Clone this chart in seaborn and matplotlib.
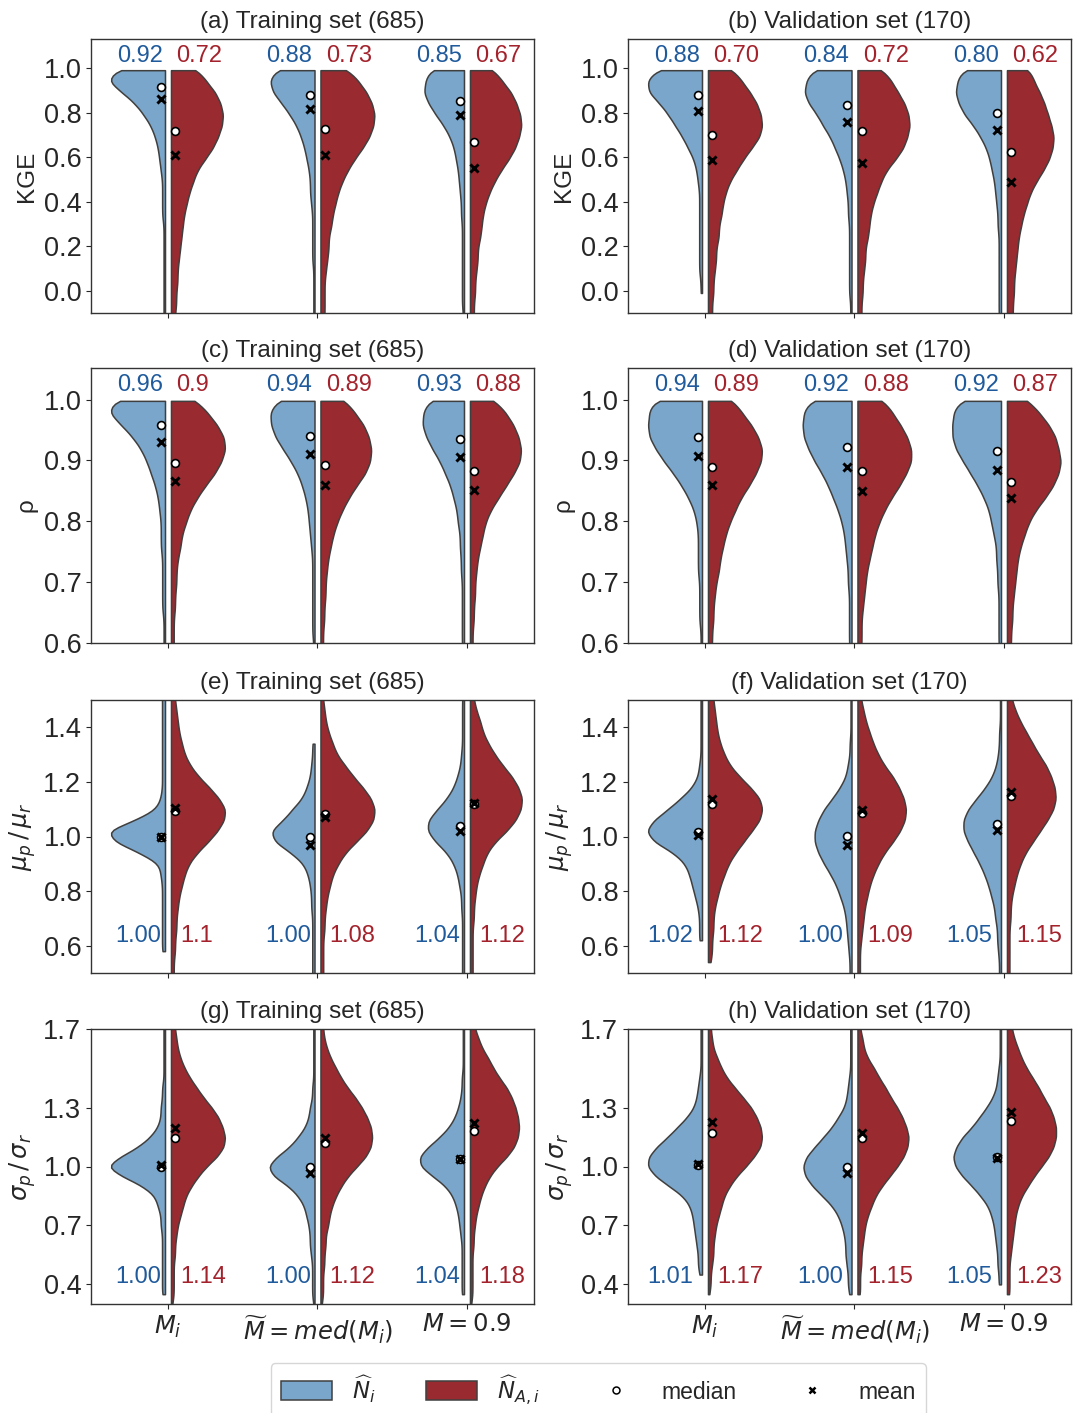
import numpy as np
import pandas as pd
import matplotlib
matplotlib.use("Agg")
import matplotlib.pyplot as plt
import seaborn as sns
from matplotlib.patches import Patch
from matplotlib.lines import Line2D
from matplotlib.ticker import FormatStrFormatter

sns.set_style("ticks")
plt.rcParams['font.family'] = ['Liberation Sans', 'DejaVu Sans']
plt.rcParams['mathtext.fontset'] = 'dejavusans'

# ---------------- data ----------------
CATEGORIES = [r"$M_i$", r"$\widetilde{M}=med(M_i)$", r"$M=0.9$"]
HUES = ["N", "NA"]
HUE_LABELS = [r"$\widehat{N}_i$", r"$\widehat{N}_{A,i}$"]

# value levels and counts (one list per category)
KGE_LEVELS = [-0.21, -0.16, -0.11, -0.06, -0.01, 0.04, 0.09, 0.14, 0.19, 0.24, 0.29, 0.34, 0.39,
              0.44, 0.49, 0.54, 0.59, 0.64, 0.69, 0.74, 0.79, 0.84, 0.89, 0.94, 0.99]
KGE_TRAIN_N = [
    [1, 1, 1, 1, 1, 1, 1, 1, 1, 1, 1, 2, 2, 2, 2, 3, 4, 5, 7, 10, 15, 21, 30, 40, 36],
    [1, 1, 1, 1, 1, 1, 1, 2, 2, 2, 2, 2, 3, 4, 4, 5, 7, 9, 12, 16, 22, 29, 37, 40, 36],
    [1, 1, 1, 2, 2, 2, 2, 2, 2, 2, 2, 3, 3, 4, 5, 6, 8, 10, 14, 20, 28, 35, 40, 38, 35],
]
KGE_TRAIN_NA = [
    [2, 3, 3, 4, 4, 5, 5, 6, 7, 8, 9, 10, 12, 14, 17, 20, 26, 32, 36, 39, 40, 38, 34, 27, 21],
    [2, 2, 3, 3, 3, 3, 4, 5, 6, 6, 8, 9, 11, 13, 16, 20, 25, 31, 36, 39, 40, 38, 34, 28, 21],
    [2, 3, 3, 3, 4, 4, 5, 6, 6, 8, 9, 10, 12, 15, 19, 24, 30, 35, 38, 40, 39, 36, 32, 25, 19],
]
KGE_VALID_N = [
    [0, 0, 0, 0, 1, 1, 2, 2, 2, 2, 2, 2, 2, 2, 3, 4, 6, 10, 14, 19, 24, 30, 38, 39, 34],
    [1, 1, 1, 1, 2, 2, 2, 2, 2, 2, 2, 3, 3, 4, 5, 7, 10, 14, 18, 24, 29, 36, 40, 38, 34],
    [1, 1, 2, 2, 2, 2, 2, 2, 2, 2, 3, 3, 4, 5, 6, 8, 10, 13, 18, 24, 32, 37, 40, 38, 35],
]
KGE_VALID_NA = [
    [2, 3, 3, 3, 4, 4, 5, 6, 6, 8, 8, 10, 11, 13, 16, 21, 26, 32, 38, 40, 39, 36, 31, 25, 19],
    [2, 3, 3, 3, 4, 4, 5, 6, 6, 8, 9, 10, 12, 15, 18, 22, 29, 35, 38, 40, 39, 36, 31, 26, 20],
    [4, 4, 5, 5, 6, 6, 7, 8, 9, 10, 12, 14, 17, 20, 25, 31, 36, 39, 40, 38, 35, 32, 28, 23, 20],
]

RHO_LEVELS = [0.518, 0.538, 0.558, 0.578, 0.598, 0.618, 0.638, 0.658, 0.678, 0.698, 0.718, 0.738,
              0.758, 0.778, 0.798, 0.818, 0.838, 0.858, 0.878, 0.898, 0.918, 0.938, 0.958, 0.978, 0.998]
RHO_TRAIN_N = [
    [1, 1, 1, 1, 1, 1, 1, 2, 2, 2, 2, 2, 3, 3, 3, 4, 5, 7, 10, 13, 17, 23, 31, 40, 38],
    [1, 1, 1, 1, 1, 2, 2, 2, 2, 2, 2, 2, 3, 4, 5, 6, 8, 11, 15, 21, 28, 35, 39, 40, 35],
    [1, 1, 1, 1, 2, 2, 2, 2, 2, 2, 3, 3, 4, 4, 6, 7, 10, 13, 18, 23, 30, 36, 40, 39, 35],
]
RHO_TRAIN_NA = [
    [1, 1, 2, 2, 2, 2, 2, 3, 3, 4, 4, 5, 7, 8, 11, 14, 19, 25, 32, 37, 40, 39, 34, 27, 19],
    [1, 1, 2, 2, 2, 2, 3, 3, 4, 4, 5, 6, 8, 10, 13, 17, 22, 28, 35, 39, 40, 38, 34, 27, 20],
    [1, 1, 2, 2, 2, 2, 3, 3, 4, 4, 5, 6, 8, 10, 12, 16, 22, 28, 34, 39, 40, 38, 34, 28, 20],
]
RHO_VALID_N = [
    [1, 1, 1, 1, 1, 1, 2, 2, 2, 2, 3, 3, 3, 3, 4, 6, 10, 15, 21, 28, 34, 39, 40, 39, 37],
    [1, 1, 1, 1, 2, 2, 2, 2, 2, 3, 3, 4, 5, 6, 8, 11, 15, 19, 24, 30, 35, 39, 40, 39, 35],
    [1, 1, 1, 1, 2, 2, 2, 2, 2, 3, 3, 4, 4, 6, 8, 10, 14, 19, 25, 31, 37, 40, 40, 39, 35],
]
RHO_VALID_NA = [
    [1, 2, 2, 2, 3, 3, 4, 4, 5, 6, 8, 9, 11, 13, 16, 20, 24, 30, 35, 39, 40, 37, 32, 25, 19],
    [1, 2, 2, 2, 3, 3, 3, 4, 5, 6, 7, 9, 11, 13, 16, 20, 25, 31, 36, 40, 40, 37, 32, 26, 20],
    [1, 2, 2, 2, 3, 3, 4, 4, 5, 6, 7, 8, 10, 13, 16, 21, 28, 34, 38, 40, 38, 36, 31, 24, 16],
]

MU_LEVELS = [0.42, 0.46, 0.50, 0.54, 0.58, 0.62, 0.66, 0.70, 0.74, 0.78, 0.82, 0.86, 0.90, 0.94, 0.98,
             1.02, 1.06, 1.10, 1.14, 1.18, 1.22, 1.26, 1.30, 1.34, 1.38, 1.42, 1.46, 1.50, 1.54, 1.58]
MU_TRAIN_N = [
    [0, 0, 0, 0, 2, 2, 2, 2, 2, 2, 2, 3, 4, 17, 34, 40, 20, 6, 3, 2, 2, 2, 2, 2, 2, 2, 2, 2, 2, 1],
    [2, 2, 2, 2, 2, 2, 2, 2, 3, 3, 4, 6, 10, 21, 36, 40, 28, 20, 11, 7, 4, 3, 2, 2, 0, 0, 0, 0, 0, 0],
    [2, 2, 2, 2, 2, 2, 2, 2, 3, 3, 5, 7, 11, 18, 30, 39, 38, 28, 18, 11, 7, 4, 3, 2, 2, 2, 2, 2, 1, 1],
]
MU_TRAIN_NA = [
    [1, 2, 2, 2, 3, 3, 4, 4, 5, 6, 8, 10, 13, 19, 27, 34, 39, 40, 35, 28, 20, 14, 10, 8, 6, 5, 4, 3, 2, 2],
    [1, 2, 2, 2, 2, 2, 3, 3, 4, 5, 7, 9, 13, 18, 26, 34, 39, 40, 37, 31, 24, 18, 12, 9, 6, 4, 3, 2, 1, 1],
    [1, 2, 2, 2, 2, 2, 2, 3, 3, 4, 5, 7, 10, 13, 19, 28, 35, 39, 40, 37, 32, 25, 19, 14, 10, 8, 5, 3, 2, 1],
]
MU_VALID_N = [
    [0, 0, 0, 0, 0, 2, 2, 2, 3, 5, 7, 9, 12, 20, 34, 40, 34, 24, 15, 7, 3, 2, 1, 1, 1, 1, 1, 1, 1, 1],
    [1, 2, 2, 2, 3, 4, 5, 6, 8, 12, 16, 22, 29, 35, 39, 39, 35, 29, 20, 12, 6, 4, 2, 2, 1, 1, 1, 1, 1, 1],
    [1, 2, 2, 2, 3, 4, 4, 6, 7, 10, 13, 17, 22, 28, 34, 39, 39, 34, 25, 16, 9, 5, 3, 2, 2, 1, 1, 1, 1, 1],
]
MU_VALID_NA = [
    [0, 0, 0, 2, 3, 3, 4, 4, 5, 7, 9, 12, 15, 20, 26, 32, 38, 40, 38, 31, 23, 16, 12, 9, 7, 6, 5, 4, 3, 2],
    [1, 2, 2, 2, 2, 3, 4, 5, 6, 8, 10, 13, 17, 22, 29, 35, 39, 40, 38, 34, 29, 22, 17, 13, 10, 7, 5, 3, 2, 1],
    [1, 2, 2, 2, 2, 2, 2, 3, 3, 4, 6, 8, 11, 15, 21, 27, 33, 38, 40, 39, 36, 32, 26, 21, 16, 11, 7, 4, 3, 2],
]

SIG_LEVELS = [0.30, 0.35, 0.40, 0.45, 0.50, 0.55, 0.60, 0.65, 0.70, 0.75, 0.80, 0.85, 0.90, 0.95, 1.00, 1.05,
              1.10, 1.15, 1.20, 1.25, 1.30, 1.35, 1.40, 1.45, 1.50, 1.55, 1.60, 1.65, 1.70, 1.75, 1.80, 1.85]
SIG_TRAIN_N = [
    [0, 2, 2, 2, 2, 2, 2, 2, 3, 3, 5, 7, 15, 29, 40, 30, 18, 10, 5, 3, 3, 2, 2, 1, 1, 1, 1, 1, 1, 1, 1, 0],
    [1, 2, 2, 2, 2, 3, 4, 4, 5, 7, 9, 14, 22, 35, 40, 32, 21, 14, 8, 5, 4, 2, 2, 1, 1, 1, 1, 1, 1, 1, 1, 0],
    [0, 2, 2, 2, 2, 2, 2, 3, 4, 5, 7, 10, 16, 27, 38, 39, 31, 21, 13, 8, 5, 3, 2, 2, 1, 1, 1, 1, 1, 1, 1, 0],
]
SIG_TRAIN_NA = [
    [1, 2, 2, 2, 2, 3, 3, 4, 5, 7, 9, 11, 15, 20, 26, 34, 39, 40, 38, 35, 30, 24, 19, 14, 10, 7, 5, 4, 3, 2, 2, 1],
    [1, 2, 2, 2, 3, 3, 4, 4, 6, 7, 9, 12, 16, 21, 28, 35, 39, 40, 39, 36, 32, 27, 21, 16, 12, 8, 5, 3, 2, 2, 1, 1],
    [1, 2, 2, 2, 2, 2, 3, 3, 4, 5, 7, 9, 12, 16, 22, 30, 36, 39, 40, 39, 37, 34, 30, 24, 19, 15, 10, 7, 4, 3, 2, 1],
]
SIG_VALID_N = [
    [0, 0, 0, 2, 3, 3, 4, 5, 6, 7, 9, 14, 24, 34, 40, 39, 33, 25, 18, 11, 6, 4, 3, 2, 1, 1, 1, 1, 1, 1, 1, 0],
    [0, 2, 3, 3, 4, 5, 5, 6, 8, 11, 16, 24, 32, 38, 40, 37, 30, 23, 16, 11, 6, 4, 3, 2, 1, 1, 1, 1, 1, 1, 1, 0],
    [0, 0, 2, 2, 3, 3, 4, 5, 6, 8, 11, 17, 24, 32, 38, 40, 37, 32, 24, 18, 12, 7, 4, 3, 2, 1, 1, 1, 1, 1, 1, 0],
]
SIG_VALID_NA = [
    [0, 1, 2, 2, 3, 4, 4, 5, 6, 8, 10, 12, 16, 21, 28, 34, 39, 40, 39, 36, 32, 26, 20, 14, 10, 7, 4, 3, 2, 2, 1, 1],
    [0, 2, 2, 2, 3, 3, 4, 5, 6, 8, 11, 14, 19, 25, 31, 36, 39, 40, 38, 35, 31, 26, 22, 17, 13, 8, 5, 4, 2, 2, 1, 1],
    [0, 2, 2, 2, 2, 3, 4, 5, 6, 7, 9, 12, 17, 22, 28, 34, 38, 40, 40, 38, 35, 30, 26, 21, 16, 12, 9, 6, 4, 3, 2, 1],
]

# medians and means (markers)
KGE_TRAIN_MED = ([0.914, 0.880, 0.850], [0.717, 0.727, 0.668])
KGE_TRAIN_MEAN = ([0.860, 0.814, 0.788], [0.610, 0.611, 0.553])
KGE_VALID_MED = ([0.877, 0.835, 0.800], [0.697, 0.717, 0.624])
KGE_VALID_MEAN = ([0.806, 0.757, 0.721], [0.589, 0.575, 0.489])
RHO_TRAIN_MED = ([0.959, 0.940, 0.935], [0.896, 0.893, 0.883])
RHO_TRAIN_MEAN = ([0.930, 0.910, 0.906], [0.866, 0.859, 0.852])
RHO_VALID_MED = ([0.939, 0.922, 0.915], [0.889, 0.882, 0.865])
RHO_VALID_MEAN = ([0.908, 0.889, 0.885], [0.859, 0.850, 0.839])
MU_TRAIN_MED = ([0.998, 1.000, 1.038], [1.094, 1.081, 1.120])
MU_TRAIN_MEAN = ([0.998, 0.969, 1.019], [1.104, 1.070, 1.122])
MU_VALID_MED = ([1.017, 1.002, 1.046], [1.118, 1.086, 1.148])
MU_VALID_MEAN = ([1.004, 0.970, 1.025], [1.139, 1.097, 1.164])
SIG_TRAIN_MED = ([0.997, 1.000, 1.040], [1.143, 1.120, 1.182])
SIG_TRAIN_MEAN = ([1.006, 0.969, 1.040], [1.194, 1.146, 1.224])
SIG_VALID_MED = ([1.010, 1.000, 1.048], [1.173, 1.146, 1.233])
SIG_VALID_MEAN = ([1.012, 0.969, 1.045], [1.227, 1.173, 1.275])

# median annotations
KGE_TRAIN_TXT = (["0.92", "0.88", "0.85"], ["0.72", "0.73", "0.67"])
KGE_VALID_TXT = (["0.88", "0.84", "0.80"], ["0.70", "0.72", "0.62"])
RHO_TRAIN_TXT = (["0.96", "0.94", "0.93"], ["0.9", "0.89", "0.88"])
RHO_VALID_TXT = (["0.94", "0.92", "0.92"], ["0.89", "0.88", "0.87"])
MU_TRAIN_TXT = (["1.00", "1.00", "1.04"], ["1.1", "1.08", "1.12"])
MU_VALID_TXT = (["1.02", "1.00", "1.05"], ["1.12", "1.09", "1.15"])
SIG_TRAIN_TXT = (["1.00", "1.00", "1.04"], ["1.14", "1.12", "1.18"])
SIG_VALID_TXT = (["1.01", "1.00", "1.05"], ["1.17", "1.15", "1.23"])

TITLES = ["(a) Training set (685)", "(b) Validation set (170)",
          "(c) Training set (685)", "(d) Validation set (170)",
          "(e) Training set (685)", "(f) Validation set (170)",
          "(g) Training set (685)", "(h) Validation set (170)"]

# ---------------- style ----------------
BLUE = "#79a6ca"
RED = "#992a30"
EDGE = "#3f3f3f"
TXT_BLUE = "#1f5a9c"
TXT_RED = "#a3222c"

FS_TICK = 19.5
FS_TITLE = 17.5
FS_LABEL = 17.5
FS_ANN = 17

fig = plt.figure(figsize=(10.84, 14.13), dpi=100)

col_left = [91 / 1084, 628 / 1084]
col_w = 442.5 / 1084
row_bottom = [(1413 - 313) / 1413, (1413 - 643) / 1413, (1413 - 973) / 1413, (1413 - 1304) / 1413]
row_h = [274 / 1413, 275 / 1413, 273 / 1413, 275 / 1413]


def fixed_bw(bw):
    def factor(kde):
        return bw / np.std(kde.dataset[0], ddof=1)
    return factor


rows = [
    dict(levels=KGE_LEVELS, data=[(KGE_TRAIN_N, KGE_TRAIN_NA, KGE_TRAIN_MED, KGE_TRAIN_MEAN, KGE_TRAIN_TXT),
                                  (KGE_VALID_N, KGE_VALID_NA, KGE_VALID_MED, KGE_VALID_MEAN, KGE_VALID_TXT)],
         ylim=(-0.1, 1.13), yticks=[0.0, 0.2, 0.4, 0.6, 0.8, 1.0], ylabel="KGE", bw=0.03,
         ann_y=1.055, top=True),
    dict(levels=RHO_LEVELS, data=[(RHO_TRAIN_N, RHO_TRAIN_NA, RHO_TRAIN_MED, RHO_TRAIN_MEAN, RHO_TRAIN_TXT),
                                  (RHO_VALID_N, RHO_VALID_NA, RHO_VALID_MED, RHO_VALID_MEAN, RHO_VALID_TXT)],
         ylim=(0.6, 1.052), yticks=[0.6, 0.7, 0.8, 0.9, 1.0], ylabel="ρ", bw=0.012,
         ann_y=1.024, top=True),
    dict(levels=MU_LEVELS, data=[(MU_TRAIN_N, MU_TRAIN_NA, MU_TRAIN_MED, MU_TRAIN_MEAN, MU_TRAIN_TXT),
                                 (MU_VALID_N, MU_VALID_NA, MU_VALID_MED, MU_VALID_MEAN, MU_VALID_TXT)],
         ylim=(0.5, 1.5), yticks=[0.6, 0.8, 1.0, 1.2, 1.4], ylabel=r"$\mu_p\,/\,\mu_r$", bw=0.024,
         ann_y=0.634, top=False),
    dict(levels=SIG_LEVELS, data=[(SIG_TRAIN_N, SIG_TRAIN_NA, SIG_TRAIN_MED, SIG_TRAIN_MEAN, SIG_TRAIN_TXT),
                                  (SIG_VALID_N, SIG_VALID_NA, SIG_VALID_MED, SIG_VALID_MEAN, SIG_VALID_TXT)],
         ylim=(0.3, 1.7), yticks=[0.4, 0.7, 1.0, 1.3, 1.7], ylabel=r"$\sigma_p\,/\,\sigma_r$", bw=0.03,
         ann_y=0.435, top=False),
]

for r, row in enumerate(rows):
    for c in range(2):
        n_counts, na_counts, med, mean, txt = row["data"][c]
        ax = fig.add_axes([col_left[c], row_bottom[r], col_w, row_h[r]])
        recs = []
        for ci, cat in enumerate(CATEGORIES):
            for hue, counts in zip(HUES, (n_counts[ci], na_counts[ci])):
                vals = np.repeat(np.array(row["levels"]), np.array(counts))
                recs.append(pd.DataFrame({"cat": cat, "hue": hue, "val": vals}))
        df = pd.concat(recs, ignore_index=True)
        sns.violinplot(data=df, x="cat", y="val", hue="hue", order=CATEGORIES, hue_order=HUES,
                       split=True, gap=0.1, width=0.8, inner=None, cut=0,
                       bw_method=fixed_bw(row["bw"]), palette=[BLUE, RED], saturation=1,
                       linecolor=EDGE, linewidth=1.1, legend=False, ax=ax)
        pos = np.arange(len(CATEGORIES))
        for h, dx in enumerate((-0.047, 0.047)):
            ax.scatter(pos + dx, med[h], s=32, marker="o", facecolor="white", edgecolor="black",
                       linewidth=1.2, zorder=5)
            ax.scatter(pos + dx, mean[h], s=34, marker="x", color="black", linewidth=2.1, zorder=6)
        # annotations
        if row["top"]:
            offb, offr = -0.035, 0.055
        elif c == 0:
            offb, offr = -0.043, 0.08
        else:
            offb, offr = -0.078, 0.085
        for ci in range(3):
            ax.text(ci + offb, row["ann_y"], txt[0][ci], ha="right", va="center",
                    color=TXT_BLUE, fontsize=FS_ANN, zorder=7)
            ax.text(ci + offr, row["ann_y"], txt[1][ci], ha="left", va="center",
                    color=TXT_RED, fontsize=FS_ANN, zorder=7)
        ax.set_xlim(-0.515, 2.445)
        ax.set_ylim(*row["ylim"])
        ax.set_yticks(row["yticks"])
        ax.yaxis.set_major_formatter(FormatStrFormatter("%.1f"))
        ax.set_xticks(pos)
        if r == 3:
            ax.set_xticklabels(CATEGORIES, fontsize=FS_LABEL)
        else:
            ax.set_xticklabels([])
        ax.tick_params(axis="y", labelsize=FS_TICK)
        ax.set_xlabel("")
        ax.set_ylabel(row["ylabel"], fontsize=FS_LABEL)
        ax.set_title(TITLES[r * 2 + c], fontsize=FS_TITLE, pad=8)
        for sp in ax.spines.values():
            sp.set_visible(True)
            sp.set_color("#333333")
            sp.set_linewidth(1.0)

handles = [
    Patch(facecolor=BLUE, edgecolor=EDGE, linewidth=1.1),
    Patch(facecolor=RED, edgecolor=EDGE, linewidth=1.1),
    Line2D([], [], ls="", marker="o", markersize=5, markerfacecolor="white",
           markeredgecolor="black", markeredgewidth=1.1),
    Line2D([], [], ls="", marker="x", markersize=5, color="black", markeredgewidth=1.8),
]
fig.legend(handles, HUE_LABELS + ["median", "mean"], loc="upper center",
           bbox_to_anchor=(0.552, 1 - 1363 / 1413), ncol=4, frameon=True, fancybox=True,
           edgecolor="0.8", fontsize=16.5, handlelength=2.2, handleheight=0.9,
           handletextpad=0.9, columnspacing=2.2, borderpad=0.45, borderaxespad=0)

fig.savefig("out.png", dpi=100)
